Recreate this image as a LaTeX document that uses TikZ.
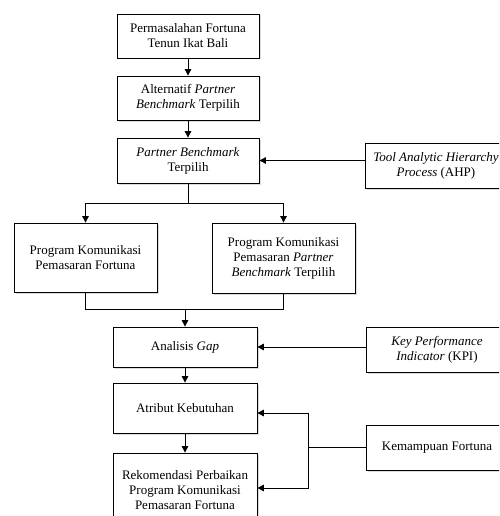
\documentclass[tikz,border=0pt]{standalone}
\usepackage{fontspec}
\setmainfont{Liberation Serif}
\usetikzlibrary{arrows.meta,shadows}
\begin{document}
\begin{tikzpicture}[x=1pt,y=-1pt,
  box/.style={draw=black, line width=0.8pt, fill=white, align=center, inner sep=2pt,
    font=\fontsize{13}{15}\selectfont,
    drop shadow={shadow xshift=1.5pt, shadow yshift=-1.5pt, fill=gray!35, opacity=0.8}},
  line/.style={draw=black, line width=0.9pt},
  arr/.style={line, -{Triangle[length=6.5pt,width=6.5pt]}}]
\clip (0,0) rectangle (499,516);
\fill[white] (0,0) rectangle (499,516);
% main column
\node[box, minimum width=142pt, minimum height=44pt] (b1) at (188,36) {Permasalahan Fortuna\\Tenun Ikat Bali};
\node[box, minimum width=142pt, minimum height=44pt] (b2) at (188,98) {Alternatif \textit{Partner}\\\textit{Benchmark} Terpilih};
\node[box, minimum width=142pt, minimum height=45pt] (b3) at (188,160.5) {\textit{Partner Benchmark}\\Terpilih};
\node[box, minimum width=142pt, minimum height=45pt] (ahp) at (436,165.5) {\textit{Tool Analytic Hierarchy}\\\textit{Process} (AHP)};
\node[box, minimum width=143pt, minimum height=69pt] (pk) at (85.5,257.5) {Program Komunikasi\\Pemasaran Fortuna};
\node[box, minimum width=143pt, minimum height=70pt] (pb) at (283.5,258) {Program Komunikasi\\Pemasaran \textit{Partner}\\\textit{Benchmark} Terpilih};
\node[box, minimum width=144pt, minimum height=40pt] (gap) at (185,347) {Analisis \textit{Gap}};
\node[box, minimum width=142pt, minimum height=45pt] (kpi) at (437,349.5) {\textit{Key Performance}\\\textit{Indicator} (KPI)};
\node[box, minimum width=144pt, minimum height=50pt] (atr) at (185,408) {Atribut Kebutuhan};
\node[box, minimum width=144pt, minimum height=74pt] (rek) at (185,490) {Rekomendasi Perbaikan\\Program Komunikasi\\Pemasaran Fortuna};
\node[box, minimum width=142pt, minimum height=45pt] (kem) at (437,447.5) {Kemampuan Fortuna};
% connectors
\draw[arr] (b1) -- (b2);
\draw[arr] (b2) -- (b3);
\draw[arr] (ahp.west |- b3.east) -- (b3.east);
\coordinate (split) at (188,203);
\draw[line] (b3.south) -- (split);
\draw[arr] (split) -| (pk.north);
\draw[arr] (split) -| (pb.north);
\coordinate (merge) at (185,309);
\draw[line] (pk.south) |- (merge);
\draw[line] (pb.south) |- (merge);
\draw[arr] (merge) -- (gap.north);
\draw[arr] (kpi.west |- gap.east) -- (gap.east);
\draw[arr] (gap) -- (atr);
\draw[arr] (atr) -- (rek.north);
\coordinate (jn) at (308,447.5);
\draw[line, line width=1.3pt] (kem.west) -- (jn);
\draw[arr] (jn) |- ([yshift=-5pt]atr.east);
\draw[arr] (jn) |- ([yshift=2pt]rek.east);
\end{tikzpicture}
\end{document}
